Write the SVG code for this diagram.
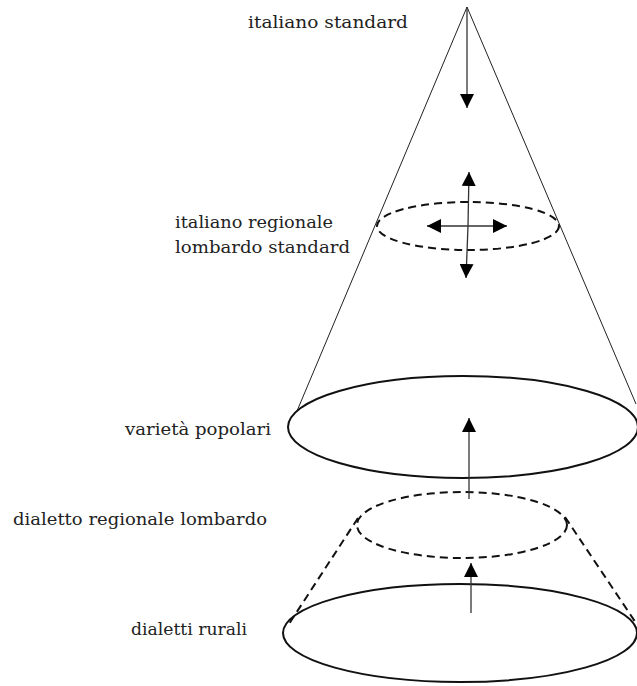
<svg xmlns="http://www.w3.org/2000/svg" width="637" height="686" viewBox="0 0 637 686">
<style>
text{font-family:"DejaVu Serif","Liberation Serif",serif;font-size:17px;fill:#222}
.thin{stroke:#222;stroke-width:1;fill:none}
.solid{stroke:#111;stroke-width:2;fill:none}
.dash{stroke:#111;stroke-width:2;fill:none;stroke-dasharray:8 5}
.arr{stroke:#333;stroke-width:1.3;fill:none}
</style>
<defs>
<marker id="ah" viewBox="0 0 10 10" refX="10" refY="5" markerWidth="14" markerHeight="14" markerUnits="userSpaceOnUse" orient="auto">
<path d="M0,0 L10,5 L0,10 Z" fill="#000"/>
</marker>
</defs>
<rect width="637" height="686" fill="#fff"/>
<g id="cone">
<line class="thin" x1="467" y1="7" x2="297" y2="411"/>
<line class="thin" x1="467" y1="7" x2="636" y2="404"/>
</g>
<g id="italiano-standard"><text x="248" y="28" textLength="160" lengthAdjust="spacingAndGlyphs">italiano standard</text></g>
<g id="italiano-regionale">
<ellipse class="dash" cx="468" cy="226" rx="91" ry="24"/>
<text x="175" y="228" textLength="158" lengthAdjust="spacingAndGlyphs">italiano regionale</text>
<text x="175" y="253" textLength="175" lengthAdjust="spacingAndGlyphs">lombardo standard</text>
</g>
<g id="varieta-popolari">
<ellipse class="solid" cx="463" cy="427" rx="175" ry="51"/>
<text x="125" y="435" textLength="146" lengthAdjust="spacingAndGlyphs">varietà popolari</text>
</g>
<g id="dialetto-regionale">
<ellipse class="dash" cx="462" cy="525" rx="105" ry="33"/>
<line class="dash" x1="358" y1="518" x2="287" y2="627"/>
<line class="dash" x1="565" y1="517" x2="636" y2="623"/>
<text x="13" y="525" textLength="254" lengthAdjust="spacingAndGlyphs">dialetto regionale lombardo</text>
</g>
<g id="dialetti-rurali">
<ellipse class="solid" cx="460" cy="633" rx="177" ry="49"/>
<text x="131" y="635" textLength="116" lengthAdjust="spacingAndGlyphs">dialetti rurali</text>
</g>
<g id="connectors">
<line class="arr" x1="467" y1="7" x2="467" y2="108" marker-end="url(#ah)"/>
<line class="arr" x1="468" y1="226" x2="469" y2="172" marker-end="url(#ah)"/>
<line class="arr" x1="468" y1="226" x2="466" y2="278" marker-end="url(#ah)"/>
<line class="arr" x1="467" y1="226" x2="427" y2="226" marker-end="url(#ah)"/>
<line class="arr" x1="467" y1="226" x2="507" y2="226" marker-end="url(#ah)"/>
<line class="arr" x1="469" y1="499" x2="469" y2="418" marker-end="url(#ah)"/>
<line class="arr" x1="471" y1="613" x2="471" y2="563" marker-end="url(#ah)"/>
</g>
</svg>
